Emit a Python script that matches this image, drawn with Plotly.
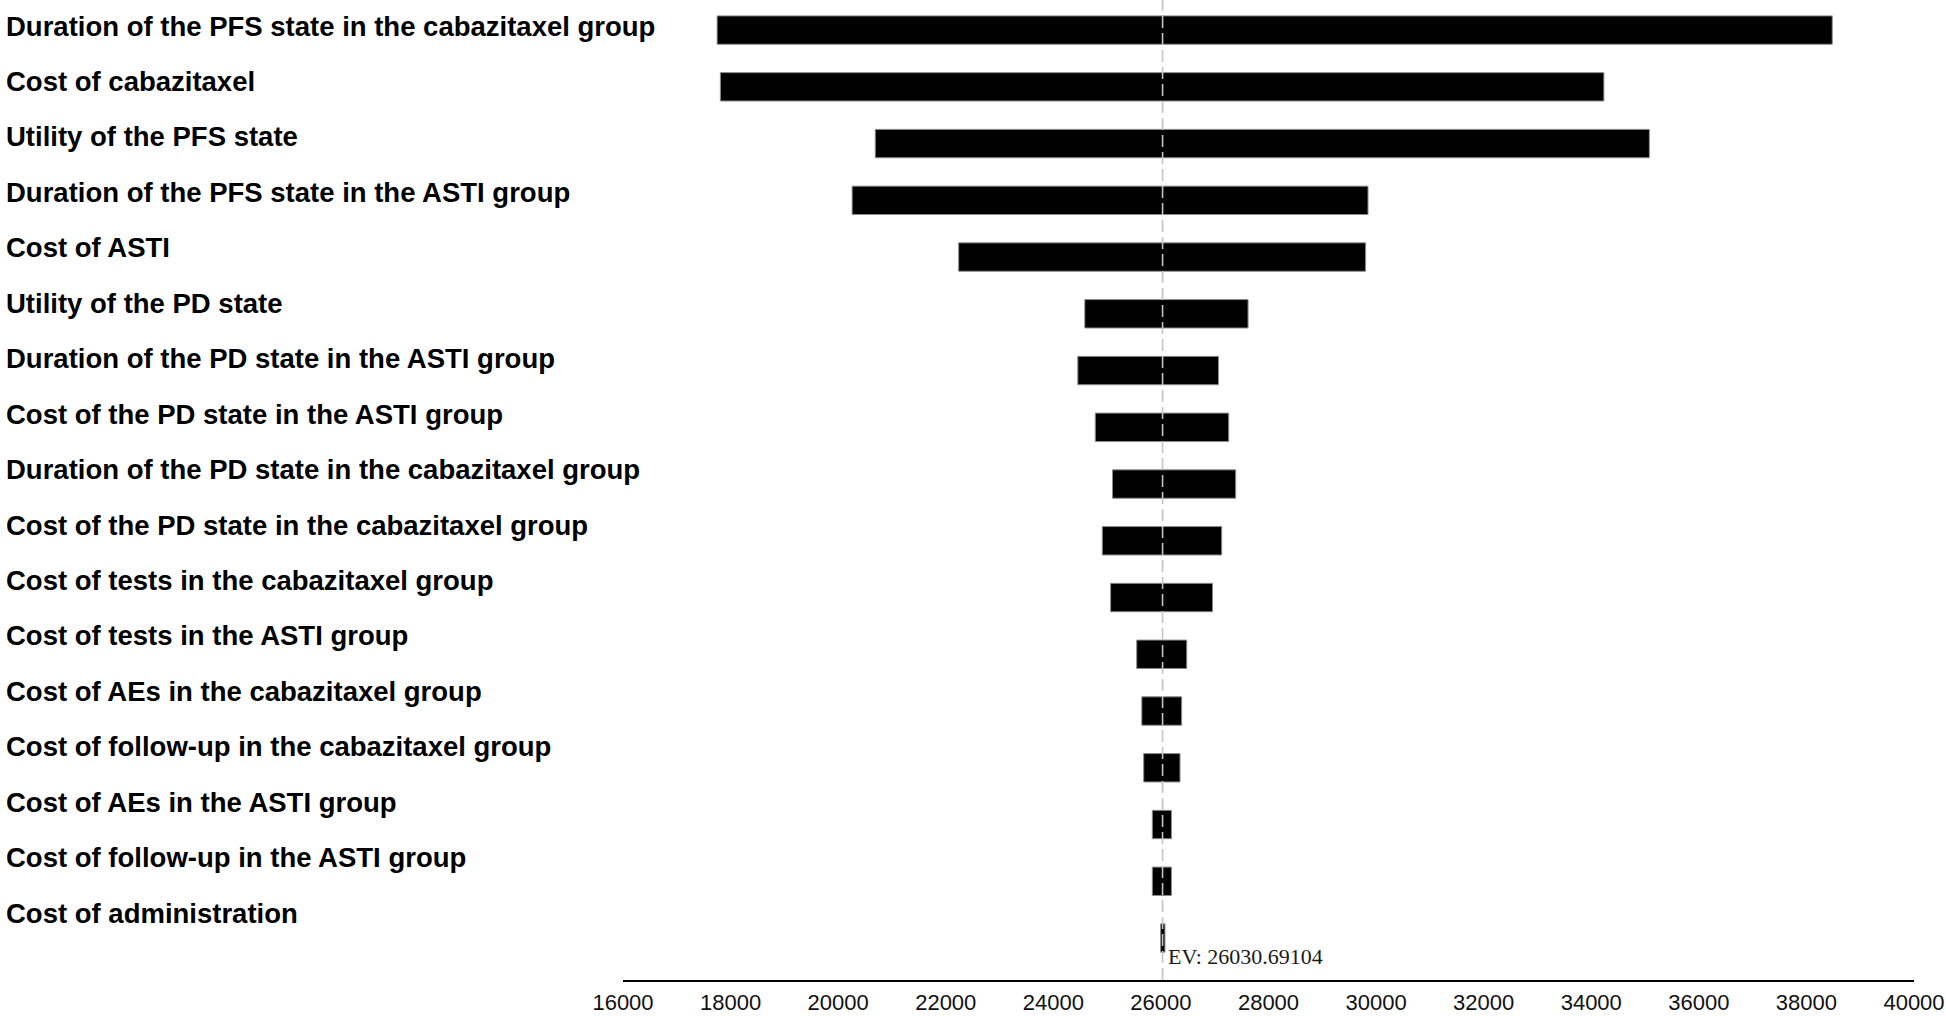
import plotly.graph_objects as go

# ---------------- data ----------------
parameters = [
    "Duration of the PFS state in the cabazitaxel group",
    "Cost of cabazitaxel",
    "Utility of the PFS state",
    "Duration of the PFS state in the ASTI group",
    "Cost of ASTI",
    "Utility of the PD state",
    "Duration of the PD state in the ASTI group",
    "Cost of the PD state in the ASTI group",
    "Duration of the PD state in the cabazitaxel group",
    "Cost of the PD state in the cabazitaxel group",
    "Cost of tests in the cabazitaxel group",
    "Cost of tests in the ASTI group",
    "Cost of AEs in the cabazitaxel group",
    "Cost of follow-up in the cabazitaxel group",
    "Cost of AEs in the ASTI group",
    "Cost of follow-up in the ASTI group",
    "Cost of administration",
]
low_values = [17750, 17810, 20690, 20260, 22240, 24585, 24455, 24780, 25100,
              24910, 25065, 25550, 25645, 25680, 25840, 25840, 25995]
high_values = [38480, 34235, 35080, 29850, 29805, 27620, 27070, 27260, 27390,
               27130, 26960, 26480, 26385, 26355, 26195, 26195, 26075]
ev_value = 26030.69104
x_ticks = list(range(16000, 40001, 2000))
x_tick_labels = [str(v) for v in x_ticks]

# ---------------- figure ----------------
W, H = 1946, 1016
m_l, m_r, m_t, m_b = 623, 32, 0, 36
plot_w = W - m_l - m_r

fig = go.Figure()
fig.add_trace(go.Bar(
    y=parameters,
    x=[h - l for l, h in zip(low_values, high_values)],
    base=low_values,
    orientation="h",
    width=0.5,
    marker=dict(color="#000000", line=dict(color="#8a8a8a", width=1)),
    showlegend=False,
    hoverinfo="skip",
))

# EV reference line
fig.add_shape(type="line", xref="x", yref="paper", x0=ev_value, x1=ev_value,
              y0=0, y1=1, line=dict(color="#c4c4c4", width=1.6, dash="12px,5px"),
              layer="above")

fig.add_annotation(xref="x", yref="paper", x=ev_value, y=0.024,
                   xanchor="left", yanchor="middle", xshift=3, showarrow=False,
                   text="EV: 26030.69104",
                   font=dict(family="Liberation Serif, Times New Roman, serif",
                             size=22, color="#1a1a1a"))

# parameter labels, left aligned at the left edge of the picture
label_x = (4 - m_l) / plot_w
for i, name in enumerate(parameters):
    fig.add_annotation(xref="paper", yref="y", x=label_x,
                       y=i * 0.977 - 0.07,
                       xanchor="left", yanchor="middle", showarrow=False,
                       text=f"<b>{name}</b>",
                       font=dict(family="Liberation Sans, Arial, sans-serif",
                                 size=27.5, color="#000000"))

axis_common = dict(range=[16000, 40000], tickmode="array", tickvals=x_ticks,
                   showgrid=False, zeroline=False, automargin=False,
                   autorange=False)

fig.update_layout(
    template="none",
    width=W, height=H,
    margin=dict(l=m_l, r=m_r, t=m_t, b=m_b, pad=0, autoexpand=False),
    plot_bgcolor="#ffffff", paper_bgcolor="#ffffff",
    xaxis=dict(**axis_common, ticktext=x_tick_labels, ticks="",
               ticklabelstandoff=2,
               showline=True, linecolor="#000000", linewidth=2,
               tickfont=dict(family="Liberation Sans, Arial, sans-serif",
                             size=22, color="#111111")),
    xaxis2=dict(**axis_common, overlaying="x", anchor="y", side="bottom",
                ticks="inside", ticklen=9, tickwidth=2, tickcolor="#c8c8c8",
                showticklabels=False, showline=False),
    xaxis3=dict(**axis_common, overlaying="x", anchor="y", side="bottom",
                ticks="outside", ticklen=9, tickwidth=2, tickcolor="#c8c8c8",
                showticklabels=False, showline=False),
    yaxis=dict(type="category", categoryorder="array",
               categoryarray=parameters, range=[16.74, -0.53],
               autorange=False, automargin=False,
               showticklabels=False, showgrid=False, zeroline=False,
               showline=False, ticks=""),
    bargap=0.5,
)

fig.write_html("out.html",
               config={"displayModeBar": False},
               post_script="document.body.style.margin='0';"
                           "document.body.style.overflow='hidden';")
